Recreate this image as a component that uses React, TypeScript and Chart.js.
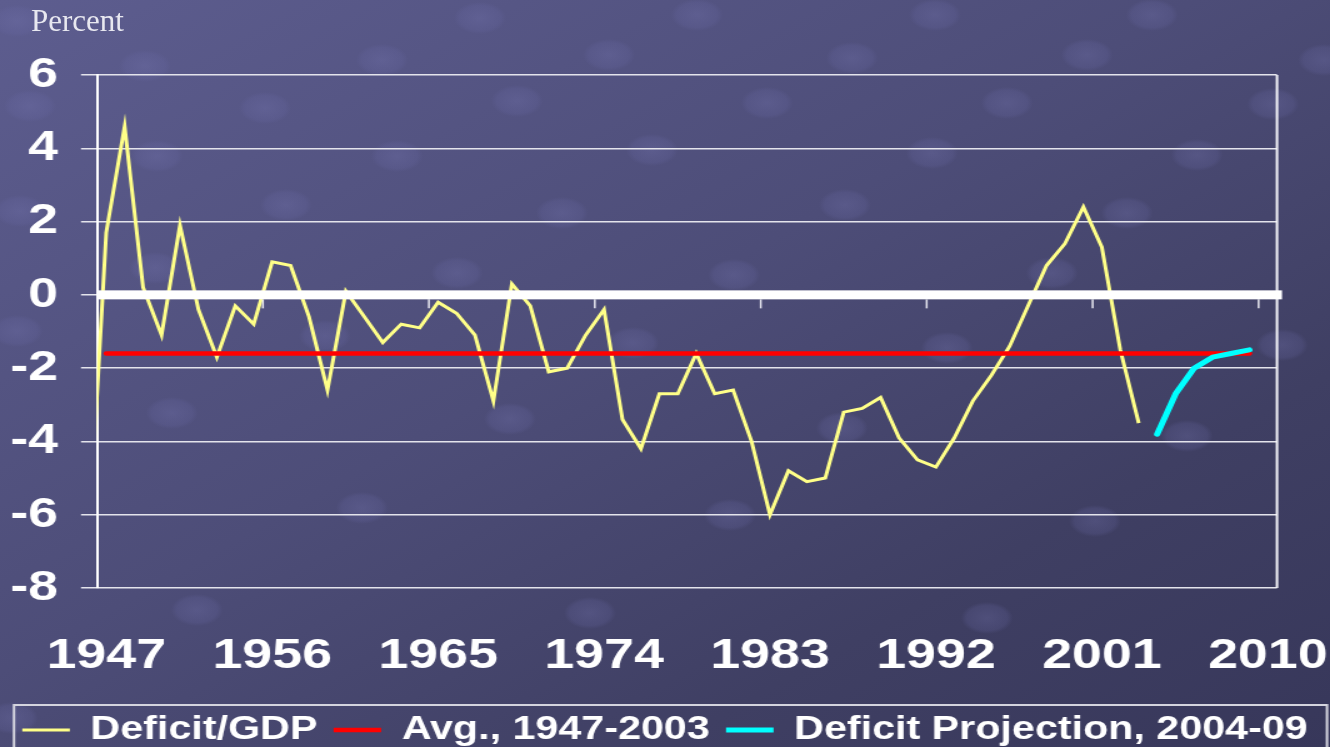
import React, { useEffect, useRef } from 'react';
import { Chart, registerables } from 'chart.js';

Chart.register(...registerables);

// ---------------- data ----------------
const deficitYears = [
  1946, 1947, 1948, 1949, 1950, 1951, 1952, 1953, 1954, 1955,
  1956, 1957, 1958, 1959, 1960, 1961, 1962, 1963, 1964, 1965,
  1966, 1967, 1968, 1969, 1970, 1971, 1972, 1973, 1974, 1975,
  1976, 1977, 1978, 1979, 1980, 1981, 1982, 1983, 1984, 1985,
  1986, 1987, 1988, 1989, 1990, 1991, 1992, 1993, 1994, 1995,
  1996, 1997, 1998, 1999, 2000, 2001, 2002, 2003,
];
const deficitValues = [
  -7.2, 1.7, 4.6, 0.2, -1.1, 1.9, -0.4, -1.7, -0.3, -0.8,
  0.9, 0.8, -0.6, -2.6, 0.1, -0.6, -1.3, -0.8, -0.9, -0.2,
  -0.5, -1.1, -2.9, 0.3, -0.3, -2.1, -2.0, -1.1, -0.4, -3.4,
  -4.2, -2.7, -2.7, -1.6, -2.7, -2.6, -4.0, -6.0, -4.8, -5.1,
  -5.0, -3.2, -3.1, -2.8, -3.9, -4.5, -4.7, -3.9, -2.9, -2.2,
  -1.4, -0.3, 0.8, 1.4, 2.4, 1.3, -1.5, -3.5,
];
const avgYears = [1947, 2009];
const avgValues = [-1.6, -1.6];
const projYears = [2004, 2005, 2006, 2007, 2008, 2009];
const projValues = [-3.8, -2.7, -2.0, -1.7, -1.6, -1.5];

const xTickYears = [1947, 1956, 1965, 1974, 1983, 1992, 2001, 2010];
const xTickMarkYears = [1955.5, 1964.5, 1973.5, 1982.5, 1991.5, 2000.5, 2009.5];
const seriesLabels = ['Deficit/GDP', 'Avg., 1947-2003', 'Deficit Projection, 2004-09'];
const yAxisTitle = 'Percent';

// ---------------- layout / decoration ----------------
const STRETCH = 1.25; // the chart object is stretched horizontally in the source
const PAGE_W = 1330;
const PAGE_H = 747;
const CW = Math.round(PAGE_W / STRETCH);
const FONT = '"Liberation Sans", Arial, Helvetica, sans-serif';
const RIGHT_GAP = CW - 1277 / STRETCH;

// faint spheres of the slide background template
const SPHERES: [number, number][] = [
  [20, 23], [148, 68], [33, 108], [268, 110], [160, 158], [23, 213], [289, 207], [158, 270],
  [20, 333], [328, 338], [385, 62], [483, 20], [400, 158], [520, 103], [460, 275], [565, 215],
  [513, 421], [365, 510], [175, 415], [200, 612], [612, 57], [700, 17], [655, 152], [770, 105],
  [737, 277], [848, 207], [636, 345], [733, 517], [593, 615], [845, 430], [855, 60], [938, 17],
  [935, 155], [1010, 105], [1055, 275], [950, 350], [1098, 523], [990, 620], [1090, 57],
  [1155, 17], [1200, 157], [1130, 215], [1276, 106], [1327, 62], [1285, 347], [1190, 438], [15, 720],
];

const backgroundCss = [
  ...SPHERES.map(
    ([cx, cy]) =>
      `radial-gradient(ellipse 26px 16px at ${cx - 3}px ${cy - 2}px, rgba(118,118,178,0.30) 0%, rgba(105,105,165,0.22) 78%, rgba(100,100,160,0) 100%)`,
  ),
  'linear-gradient(to bottom right, #5d5d8f 0%, #4d4d78 45%, #3f3f63 75%, #37375a 100%)',
].join(', ');

const toXY = (xs: number[], ys: number[]) => xs.map((x, i) => ({ x, y: ys[i] }));

const decorPlugin = {
  id: 'decor',
  afterDatasetsDraw(chart: any) {
    const { ctx, chartArea: a, scales } = chart;
    const x = scales.x;
    const y = scales.y;
    const y0 = y.getPixelForValue(0);
    ctx.save();
    // right border of the plot area
    ctx.strokeStyle = '#f4f4f8';
    ctx.lineWidth = 2;
    ctx.beginPath();
    ctx.moveTo(a.right, a.top);
    ctx.lineTo(a.right, a.bottom);
    ctx.stroke();
    // thick zero axis
    ctx.fillStyle = '#ffffff';
    ctx.fillRect(a.left, y0 - 4.5, a.right - a.left + 4, 9);
    // category tick marks hanging below the zero axis
    ctx.strokeStyle = '#e8e8f0';
    ctx.lineWidth = 1.5;
    for (const t of xTickMarkYears) {
      const px = x.getPixelForValue(t);
      ctx.beginPath();
      ctx.moveTo(px, y0 + 4.5);
      ctx.lineTo(px, y0 + 13.5);
      ctx.stroke();
    }
    ctx.restore();
  },
  afterDraw(chart: any) {
    const { ctx, legend } = chart;
    if (!legend) return;
    ctx.save();
    ctx.strokeStyle = '#d4d4de';
    ctx.lineWidth = 2;
    ctx.strokeRect(11.2, legend.top + 4.5, CW - 11.2 - 2.4, 80);
    ctx.restore();
  },
};

export default function App() {
  const ref = useRef<HTMLCanvasElement>(null);

  useEffect(() => {
    if (!ref.current) return;
    const chart = new Chart(ref.current, {
      type: 'line',
      data: {
        datasets: [
          {
            label: seriesLabels[0],
            data: toXY(deficitYears, deficitValues),
            borderColor: '#ffff88',
            backgroundColor: '#ffff88',
            borderWidth: 3,
            pointRadius: 0,
            tension: 0,
            order: 3,
          },
          {
            label: seriesLabels[1],
            data: toXY(avgYears, avgValues),
            borderColor: '#ff0000',
            backgroundColor: '#ff0000',
            borderWidth: 4.5,
            borderCapStyle: 'round',
            pointRadius: 0,
            order: 2,
          },
          {
            label: seriesLabels[2],
            data: toXY(projYears, projValues),
            borderColor: '#00ffff',
            backgroundColor: '#00ffff',
            borderWidth: 5,
            borderCapStyle: 'round',
            borderJoinStyle: 'round',
            pointRadius: 0,
            order: 1,
          },
        ],
      },
      options: {
        responsive: false,
        animation: false,
        devicePixelRatio: 1,
        layout: {
          padding: { top: 75, right: 0, bottom: -9.5, left: 0 },
        },
        plugins: {
          legend: {
            position: 'bottom',
            labels: {
              color: '#ffffff',
              font: { family: FONT, size: 33, weight: 'bold' },
              usePointStyle: true,
              pointStyle: 'line',
              pointStyleWidth: 38,
              padding: 13,
              sort: (a: any, b: any) => a.datasetIndex - b.datasetIndex,
            },
          },
          tooltip: { enabled: false },
        },
        scales: {
          x: {
            type: 'linear',
            min: 1946.5,
            max: 2010.5,
            afterBuildTicks: (s: any) => {
              s.ticks = xTickYears.map((v) => ({ value: v }));
            },
            afterFit: (s: any) => {
              s.height = 112.5;
              s.paddingLeft = 0;
              s.paddingRight = RIGHT_GAP;
            },
            grid: { display: false },
            border: { display: false },
            ticks: {
              color: '#ffffff',
              font: { family: FONT, size: 43, weight: 'bold' },
              padding: 34,
              autoSkip: false,
              maxRotation: 0,
              callback: (v: any) => String(v),
            },
          },
          y: {
            min: -8,
            max: 6,
            afterFit: (s: any) => {
              s.width = 97 / STRETCH;
            },
            ticks: {
              stepSize: 2,
              color: '#ffffff',
              font: { family: FONT, size: 43, weight: 'bold' },
              padding: 18.4,
            },
            grid: {
              color: '#e4e4ec',
              lineWidth: 1.5,
              tickLength: 12.8,
              tickWidth: 1.5,
              tickColor: '#e4e4ec',
            },
            border: { color: '#ffffff', width: 2 },
          },
        },
      } as any,
      plugins: [decorPlugin],
    });
    return () => chart.destroy();
  }, []);

  return (
    <div
      style={{
        position: 'absolute',
        left: 0,
        top: 0,
        width: PAGE_W,
        height: PAGE_H,
        overflow: 'hidden',
        background: backgroundCss,
      }}
    >
      <canvas
        ref={ref}
        width={CW}
        height={PAGE_H}
        style={{ position: 'absolute', left: 0, top: 0, width: PAGE_W + 'px', height: PAGE_H + 'px' }}
      />
      <div
        style={{
          position: 'absolute',
          left: 31,
          top: 5,
          font: '31px/31px "Liberation Serif", "Times New Roman", serif',
          color: '#e8e8f0',
          whiteSpace: 'nowrap',
        }}
      >
        {yAxisTitle}
      </div>
    </div>
  );
}
